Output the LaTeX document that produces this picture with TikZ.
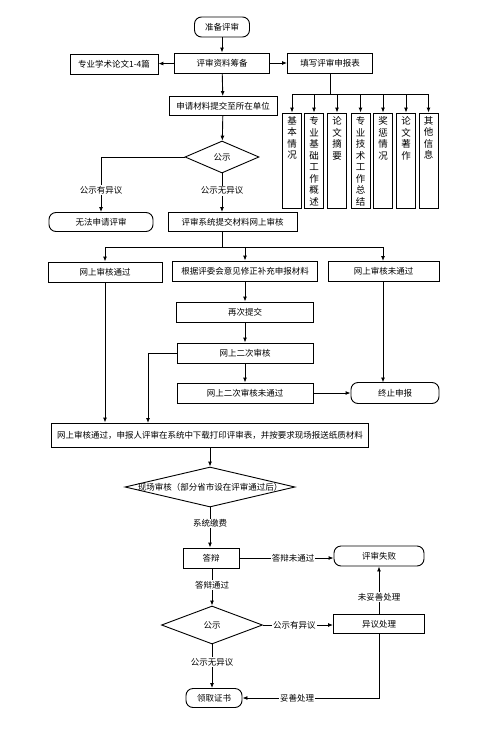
\documentclass[tikz,border=0pt]{standalone}
\usepackage{fontspec}
\newfontfamily\cjk{Noto Sans CJK SC}
\usetikzlibrary{arrows.meta,shapes.geometric}
\newcommand{\stacktext}[1]{\parbox[c][88pt][t]{10pt}{\centering #1}}
\tikzset{
  box/.style={draw,line width=.9pt,minimum height=20pt,inner sep=2pt,
    font=\cjk\fontsize{8.5}{10}\selectfont},
  rbox/.style={box,rounded corners=7pt},
  itembox/.style={draw,line width=.9pt,minimum width=19pt,inner sep=3.5pt,
    font=\cjk\fontsize{9.5}{11.5}\selectfont},
  decision/.style={draw,diamond,line width=.9pt,inner sep=0pt,
    font=\cjk\fontsize{8.5}{10}\selectfont},
  arr/.style={-{Latex[length=5pt,width=4pt]},line width=.9pt},
  lbl/.style={fill=white,inner sep=1pt,font=\cjk\fontsize{8.5}{10}\selectfont}
}
\begin{document}
\begin{tikzpicture}[x=1pt,y=-1pt]
  \useasboundingbox[fill=white] (0,0) rectangle (500,731);
  % top part
  \node[rbox,minimum width=55pt] (start) at (222,27) {准备评审};
  \node[box,minimum width=95pt] (prep) at (222,63) {评审资料筹备};
  \node[box,minimum width=88pt] (paper) at (114,64) {专业学术论文1-4篇};
  \node[box,minimum width=85pt] (form) at (330,63) {填写评审申报表};
  \node[box,minimum width=108pt,minimum height=19pt] (submit) at (223,106) {申请材料提交至所在单位};
  \draw[arr] (start) -- (prep);
  \draw[arr] (prep) -- (paper);
  \draw[arr] (prep) -- (form);
  \draw[arr] (prep) -- (submit);
  % items of the form
  \coordinate (fork) at (330,94);
  \foreach \x/\t/\n in {292/{基\\本\\情\\况}/1,314/{专\\业\\基\\础\\工\\作\\概\\述}/2,
      337/{论\\文\\摘\\要}/3,360.5/{专\\业\\技\\术\\工\\作\\总\\结}/4,
      383/{奖\\惩\\情\\况}/5,406/{论\\文\\著\\作}/6,428.5/{其\\他\\信\\息}/7}{
    \node[itembox] (item\n) at (\x,160.5) {\stacktext{\t}};
    \draw[arr] (item\n.north |- fork) -- (item\n.north);
  }
  \draw[line width=.9pt] (form.south) -- (fork);
  \draw[line width=.9pt] (item1.north |- fork) -- (item7.north |- fork);
  % publicity
  \node[decision,minimum width=74pt,minimum height=32pt] (gs1) at (222,157) {公示};
  \node[rbox,minimum width=104pt,minimum height=19pt] (fail1) at (101,222) {无法申请评审};
  \node[box,minimum width=129pt,minimum height=19pt] (online) at (232.5,222) {评审系统提交材料网上审核};
  \draw[arr] (submit) -- (gs1);
  \draw[arr] (gs1.west) -- (fail1.north |- gs1.west) -- node[lbl,pos=.6]{公示有异议} (fail1.north);
  \draw[arr] (gs1.south) -- node[lbl,pos=.45]{公示无异议} (gs1.south |- online.north);
  % online review
  \node[box,minimum width=114pt] (pass) at (105,272) {网上审核通过};
  \node[box,minimum width=145pt] (revise) at (245,271) {根据评委会意见修正补充申报材料};
  \node[box,minimum width=111pt] (nopass) at (383.5,271) {网上审核未通过};
  \coordinate (split) at (222,247);
  \draw[line width=.9pt] (gs1.south |- online.south) -- (split);
  \draw[line width=.9pt] (pass.north |- split) -- (383,247);
  \draw[arr] (pass.north |- split) -- (pass.north);
  \draw[arr] (revise.north |- split) -- (revise.north);
  \draw[arr] (383,247) -- (383,261);
  \node[box,minimum width=137pt] (resub) at (245,312) {再次提交};
  \node[box,minimum width=136pt] (second) at (245,353) {网上二次审核};
  \node[box,minimum width=136pt] (secfail) at (245,393) {网上二次审核未通过};
  \node[rbox,minimum width=88pt,minimum height=21pt] (stop) at (395,393) {终止申报};
  \draw[arr] (revise) -- (resub);
  \draw[arr] (resub) -- (second);
  \draw[arr] (second) -- (secfail);
  \draw[arr] (secfail) -- (stop);
  \draw[arr] (383,281) -- (383,382.5);
  % paper materials
  \node[box,minimum width=317pt,minimum height=24pt] (big) at (210,435)
    {网上审核通过，申报人评审在系统中下载打印评审表，并按要求现场报送纸质材料};
  \draw[arr] (pass.south) -- (pass.south |- big.north);
  \draw[arr] (second.west) -- (148,353) -- (148,423);
  \node[decision,minimum width=170pt,minimum height=40pt,
    label={[font=\cjk\fontsize{8.5}{10}\selectfont]center:现场审核（部分省市设在评审通过后）}] (site) at (210,487) {};
  \draw[arr] (big.south -| site.north) -- (site.north);
  % defence
  \node[box,minimum width=56pt] (defend) at (211,558) {答辩};
  \node[rbox,minimum width=90pt] (fail2) at (379,556) {评审失败};
  \draw[arr] (site.south) -- node[lbl,pos=.4]{系统缴费} (site.south |- defend.north);
  \draw[arr] (defend.east) -- node[lbl,pos=.57]{答辩未通过} (defend.east -| fail2.west);
  \node[decision,minimum width=101pt,minimum height=38pt] (gs2) at (212,625) {公示};
  \node[box,minimum width=91pt,minimum height=19pt] (object) at (379,624) {异议处理};
  \node[rbox,minimum width=56pt,minimum height=19pt] (cert) at (214,698) {领取证书};
  \draw[arr] (defend.south -| gs2.north) -- node[lbl,pos=.45]{答辩通过} (gs2.north);
  \draw[arr] (gs2.east) -- node[lbl,pos=.45]{公示有异议} (gs2.east -| object.west);
  \draw[arr] (object.north) -- node[lbl,pos=.35]{未妥善处理} (object.north |- fail2.south);
  \draw[arr] (gs2.south) -- node[lbl,pos=.4]{公示无异议} (gs2.south |- cert.north);
  \draw[arr] (object.south) -- (object.south |- cert.east) -- node[lbl,pos=.6]{妥善处理} (cert.east);
\end{tikzpicture}
\end{document}
